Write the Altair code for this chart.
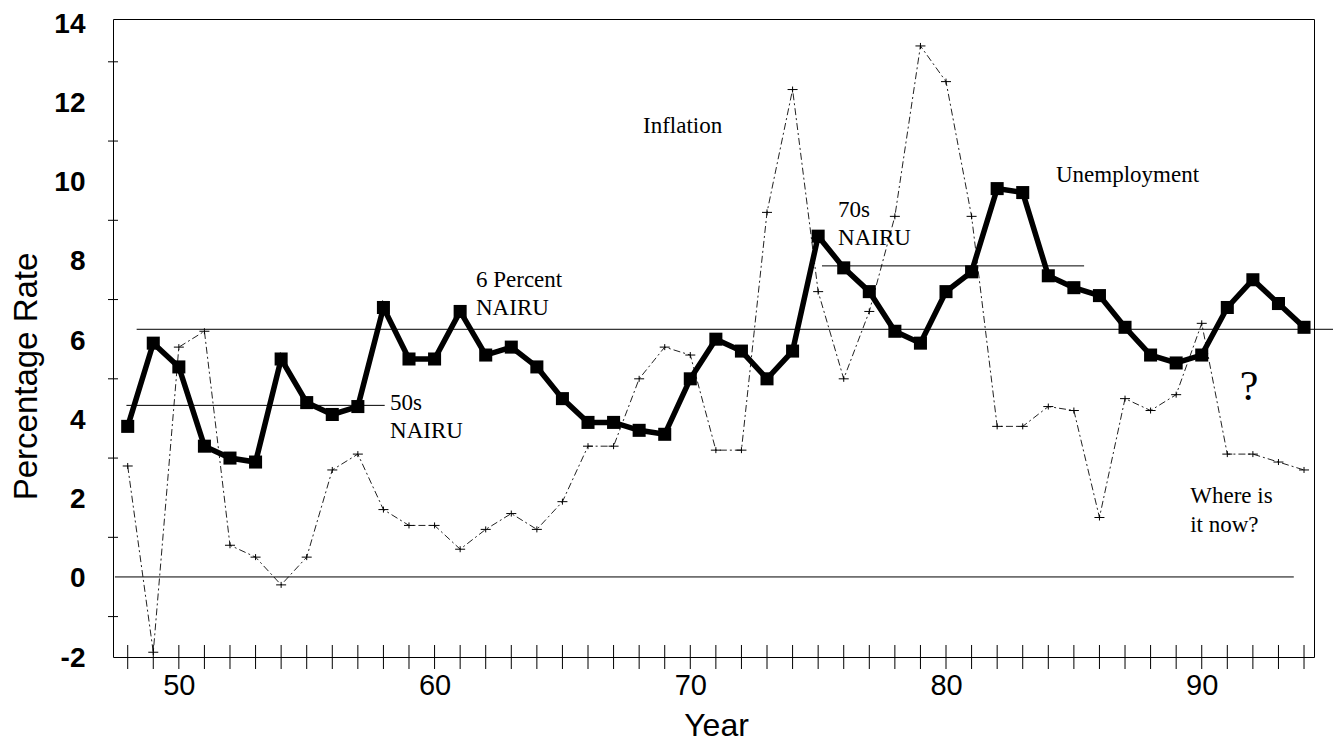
import altair as alt
import pandas as pd

years = list(range(48, 95))
unemployment = [3.8, 5.9, 5.3, 3.3, 3.0, 2.9, 5.5, 4.4, 4.1, 4.3,
                6.8, 5.5, 5.5, 6.7, 5.6, 5.8, 5.3, 4.5, 3.9, 3.9,
                3.7, 3.6, 5.0, 6.0, 5.7, 5.0, 5.7, 8.6, 7.8, 7.2,
                6.2, 5.9, 7.2, 7.7, 9.8, 9.7, 7.6, 7.3, 7.1, 6.3,
                5.6, 5.4, 5.6, 6.8, 7.5, 6.9, 6.3]
inflation = [2.8, -1.9, 5.8, 6.2, 0.8, 0.5, -0.2, 0.5, 2.7, 3.1,
             1.7, 1.3, 1.3, 0.7, 1.2, 1.6, 1.2, 1.9, 3.3, 3.3,
             5.0, 5.8, 5.6, 3.2, 3.2, 9.2, 12.3, 7.2, 5.0, 6.7,
             9.1, 13.4, 12.5, 9.1, 3.8, 3.8, 4.3, 4.2, 1.5, 4.5,
             4.2, 4.6, 6.4, 3.1, 3.1, 2.9, 2.7]

# reference (NAIRU) lines
line_names = ["zero", "6 percent", "50s", "70s"]
line_levels = [0.0, 6.25, 4.33, 7.85]
line_starts = [47.5, 48.35, 47.95, 75.15]
line_ends = [93.6, 95.2, 58.05, 85.4]

# annotations
note_texts = ["Inflation", "6 Percent", "NAIRU", "50s", "NAIRU", "70s", "NAIRU",
              "Unemployment", "Where is", "it now?"]
note_x = [68.15, 61.62, 61.62, 58.26, 58.26, 75.78, 75.78, 84.3, 89.55, 89.55]
note_y = [11.2, 7.32, 6.61, 4.21, 3.51, 9.08, 8.38, 9.97, 1.87, 1.14]
q_text = ["?"]
q_x = [91.85]
q_y = [4.47]

x_label_values = [50, 60, 70, 80, 90]
y_label_values = [-2, 0, 2, 4, 6, 8, 10, 12, 14]
y_minor_ticks = [-1, 1, 3, 5, 7, 9, 11, 13]

W, H = 1201, 638
x_scale = alt.Scale(domain=[47.425, 94.39], nice=False, zero=False)
y_scale = alt.Scale(domain=[-2.02, 14.08], nice=False, zero=False)

df = pd.DataFrame({"year": years, "unemp": unemployment, "infl": inflation})
lines_df = pd.DataFrame({"name": line_names, "level": line_levels,
                         "start": line_starts, "end": line_ends})
notes_df = pd.DataFrame({"text": note_texts, "x": note_x, "y": note_y})
q_df = pd.DataFrame({"text": q_text, "x": q_x, "y": q_y})
yt_df = pd.DataFrame({"v": y_minor_ticks})
xt_df = pd.DataFrame({"yr": years})

SANS = "Liberation Sans"
SERIF = "Liberation Serif"

x_axis = alt.Axis(values=x_label_values, title="Year", labelFont=SANS, labelFontSize=29,
                  labelColor="black", labelPadding=14, labelFlush=False,
                  ticks=False, domain=False, grid=False,
                  titleFont=SANS, titleFontSize=32, titleFontWeight="normal",
                  titleColor="black", titleX=603, titleY=78, titleBaseline="alphabetic")
y_axis = alt.Axis(values=y_label_values, title="Percentage Rate", labelFont=SANS,
                  labelFontSize=28, labelFontWeight="bold", labelColor="black",
                  labelPadding=28, labelFlush=False, labelOffset=2,
                  labelExpr="datum.value < 0 ? '-' + abs(datum.value) : '' + datum.value",
                  ticks=False, domain=False, grid=False,
                  titleFont=SANS, titleFontSize=33, titleFontWeight="normal",
                  titleColor="black", titleX=-87, titleY=357, titleAngle=270,
                  titleAlign="center", titleBaseline="middle")


def X(field):
    return alt.X(field, scale=x_scale, axis=x_axis, title="Year")


def Y(field):
    return alt.Y(field, scale=y_scale, axis=y_axis, title="Percentage Rate")


base = alt.Chart(df)

infl_line = base.mark_line(color="#222222", strokeWidth=1, strokeDash=[7, 3, 2, 3]).encode(
    x=X("year:Q"), y=Y("infl:Q"),
)
infl_pts = base.mark_point(shape="M-1,0H1M0,-0.6V0.6", size=100, filled=False,
                           color="black", strokeWidth=1, opacity=1).encode(
    x=X("year:Q"), y=Y("infl:Q"),
)
ref_lines = alt.Chart(lines_df).mark_rule(color="black", strokeWidth=1).encode(
    x=X("start:Q"), x2="end:Q", y=Y("level:Q"),
)
unemp_line = base.mark_line(color="black", strokeWidth=5.5).encode(
    x=X("year:Q"), y=Y("unemp:Q"),
)
unemp_pts = base.mark_square(size=170, color="black", opacity=1).encode(
    x=X("year:Q"), y=Y("unemp:Q"),
)
y_ticks = alt.Chart(yt_df).mark_rule(color="black", strokeWidth=1).encode(
    y=Y("v:Q"), x=alt.value(-5), x2=alt.value(5),
)
x_ticks = alt.Chart(xt_df).mark_rule(color="black", strokeWidth=1).encode(
    x=X("yr:Q"), y=alt.value(H - 12), y2=alt.value(H + 12),
)
notes = alt.Chart(notes_df).mark_text(align="left", baseline="alphabetic", font=SERIF,
                                      fontSize=23, color="black").encode(
    x=X("x:Q"), y=Y("y:Q"), text="text:N",
)
qmark = alt.Chart(q_df).mark_text(align="center", baseline="alphabetic", font=SERIF,
                                  fontSize=42, color="black").encode(
    x=X("x:Q"), y=Y("y:Q"), text="text:N",
)

chart = alt.layer(
    infl_line, infl_pts, ref_lines, y_ticks, x_ticks, unemp_line, unemp_pts, notes, qmark
).properties(
    width=W, height=H,
    autosize=alt.AutoSizeParams(type="none"),
    padding={"left": 105, "top": 11, "right": 19, "bottom": 88},
    background="white",
).configure_view(stroke="black", strokeWidth=1)

chart.save("out.html", embed_options={"renderer": "svg", "actions": False})
